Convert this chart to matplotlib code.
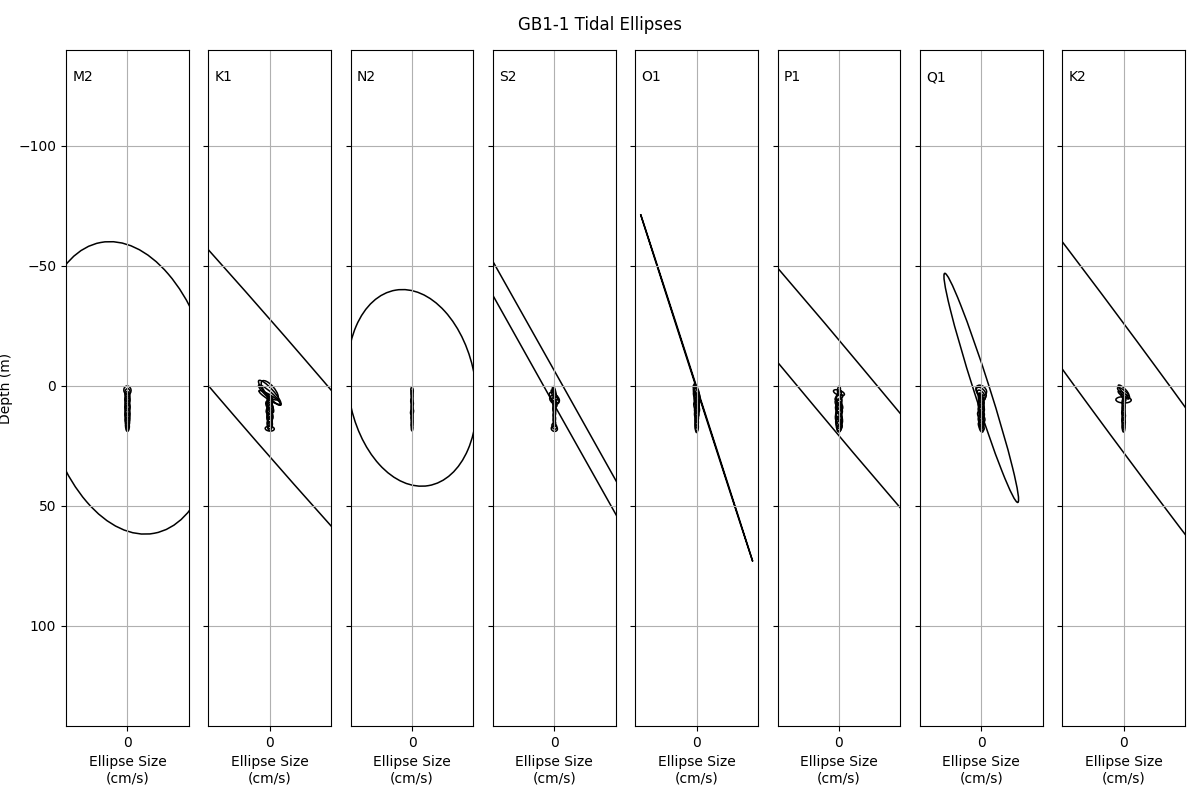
import matplotlib
matplotlib.use('Agg')
import matplotlib.pyplot as plt
from matplotlib.patches import Ellipse

# bin depths (m), first bin is the noisy surface bin
depths = [0.8, 1.8, 2.8, 3.8, 4.8, 5.8, 6.8, 7.8, 8.8, 9.8,
          10.8, 11.8, 12.8, 13.8, 14.8, 15.8, 16.8, 17.8]

constituents = ['M2', 'K1', 'N2', 'S2', 'O1', 'P1', 'Q1', 'K2']

# semi-major (cm/s), semi-minor (cm/s), inclination (deg) per bin
maj_M2 = [61.6, 1.8, 1.7, 1.5, 1.8, 1.6, 1.7, 1.8, 1.6, 1.9, 1.7, 1.8, 1.6, 1.7, 1.8, 1.5, 1.4, 1.1]
min_M2 = [35.8, 1.5, 1.1, 0.9, 1.0, 1.1, 0.9, 1.0, 1.1, 1.0, 0.9, 1.1, 0.9, 1.0, 0.9, 0.8, 0.8, 0.6]
inc_M2 = [79.6, 80, 95, 85, 92, 88, 96, 84, 90, 93, 87, 91, 86, 94, 89, 92, 88, 90]

maj_K1 = [250, 5.0, 6.8, 6.2, 5.3, 2.2, 2.4, 2.0, 2.7, 2.2, 2.0, 2.5, 2.1, 2.3, 1.9, 2.0, 1.7, 1.9]
min_K1 = [18.8, 2.0, 1.6, 1.2, 1.0, 1.0, 1.2, 0.9, 1.1, 1.3, 1.0, 1.1, 1.2, 1.0, 0.9, 1.1, 0.9, 1.0]
inc_K1 = [49.2, 50, 48, 42, 32, 80, 100, 75, 60, 110, 85, 70, 95, 80, 100, 88, 92, 5]

maj_N2 = [41.3, 1.2, 1.0, 1.3, 1.1, 0.9, 1.4, 1.1, 1.0, 1.2, 1.3, 1.0, 1.1, 1.2, 0.9, 1.1, 1.0, 0.9]
min_N2 = [26.5, 0.5, 0.4, 0.4, 0.3, 0.4, 0.5, 0.3, 0.4, 0.4, 0.6, 0.3, 0.4, 0.4, 0.3, 0.4, 0.3, 0.3]
inc_N2 = [80.5, 85, 92, 88, 95, 90, 80, 91, 87, 93, 100, 89, 92, 86, 90, 94, 88, 90]

maj_S2 = [300, 1.6, 2.2, 2.4, 2.7, 2.2, 2.0, 1.7, 1.5, 1.4, 1.6, 1.2, 1.5, 1.3, 1.4, 1.2, 1.3, 1.3]
min_S2 = [3.5, 0.4, 0.5, 0.7, 1.3, 1.5, 0.8, 0.6, 0.5, 0.6, 0.4, 0.5, 0.4, 0.5, 0.4, 0.5, 0.9, 1.1]
inc_S2 = [60.7, 75, 70, 60, 45, 40, 65, 80, 95, 85, 90, 100, 88, 92, 85, 95, 60, 20]

maj_O1 = [76.0, 2.8, 3.3, 3.1, 2.5, 2.8, 2.3, 2.0, 2.4, 1.8, 2.0, 1.7, 1.9, 1.6, 1.8, 1.7, 1.9, 1.6]
min_O1 = [0.12, 0.7, 0.8, 1.0, 0.9, 0.7, 0.8, 0.7, 1.0, 0.6, 0.8, 0.9, 0.7, 0.6, 0.7, 0.6, 0.7, 0.5]
inc_O1 = [72.1, 70, 68, 72, 65, 75, 70, 80, 72, 85, 78, 88, 82, 90, 86, 92, 88, 90]

maj_P1 = [250, 1.7, 2.4, 2.0, 1.8, 2.2, 1.9, 2.4, 2.0, 2.2, 2.1, 2.3, 2.0, 2.5, 2.1, 2.2, 2.0, 1.4]
min_P1 = [12.8, 0.6, 1.0, 0.8, 0.9, 1.1, 0.8, 1.2, 0.9, 1.3, 1.0, 1.2, 1.1, 1.4, 1.0, 1.2, 1.1, 0.8]
inc_P1 = [50.1, 95, 20, 110, 150, 75, 120, 60, 100, 70, 115, 80, 60, 75, 105, 70, 85, 90]

maj_Q1 = [50.1, 2.5, 2.7, 2.4, 2.0, 2.1, 2.2, 1.9, 2.3, 2.0, 2.2, 1.9, 2.4, 2.0, 2.1, 1.8, 1.9, 1.5]
min_Q1 = [3.3, 1.8, 1.5, 1.2, 0.8, 0.9, 1.0, 0.8, 1.1, 0.9, 1.0, 0.8, 1.1, 0.9, 1.0, 0.8, 0.9, 0.7]
inc_Q1 = [72.3, 40, 50, 55, 70, 65, 75, 60, 70, 80, 65, 75, 60, 70, 65, 75, 60, 70]

maj_K2 = [250, 3.0, 3.2, 2.7, 1.7, 3.2, 1.6, 1.8, 1.5, 1.7, 1.6, 1.8, 1.5, 1.7, 1.6, 1.8, 1.5, 1.4]
min_K2 = [16.0, 0.8, 0.9, 0.7, 0.5, 1.3, 0.6, 0.5, 0.6, 0.5, 0.6, 0.7, 0.5, 0.6, 0.7, 0.5, 0.6, 0.5]
inc_K2 = [53.7, 45, 40, 35, 60, 2, 90, 85, 95, 88, 92, 80, 95, 88, 84, 92, 90, 88]

params = {
    'M2': (maj_M2, min_M2, inc_M2),
    'K1': (maj_K1, min_K1, inc_K1),
    'N2': (maj_N2, min_N2, inc_N2),
    'S2': (maj_S2, min_S2, inc_S2),
    'O1': (maj_O1, min_O1, inc_O1),
    'P1': (maj_P1, min_P1, inc_P1),
    'Q1': (maj_Q1, min_Q1, inc_Q1),
    'K2': (maj_K2, min_K2, inc_K2),
}

fig, axes = plt.subplots(1, len(constituents), sharey=True, figsize=(12, 8), dpi=100)
fig.subplots_adjust(left=0.055, right=0.9875, top=0.9375, bottom=0.0925, wspace=0.158)

for ax, name in zip(axes, constituents):
    majs, mins, incs = params[name]
    for d, a, b, inc in zip(depths, majs, mins, incs):
        ax.add_patch(Ellipse((0, d), 2 * a, 2 * b, angle=inc,
                             fill=False, edgecolor='black', linewidth=1.1))
    ax.set_xlim(-25.6, 25.6)
    ax.set_xticks([0])
    ax.grid(True)
    ax.text(0.05, 0.97, name, transform=ax.transAxes, va='top', ha='left', fontsize=10)
    ax.set_xlabel('Ellipse Size\n(cm/s)')

axes[0].set_ylim(141.7, -140)
axes[0].set_yticks([-100, -50, 0, 50, 100])
axes[0].set_ylabel('Depth (m)')
fig.suptitle('GB1-1 Tidal Ellipses')

plt.savefig('out.png')
